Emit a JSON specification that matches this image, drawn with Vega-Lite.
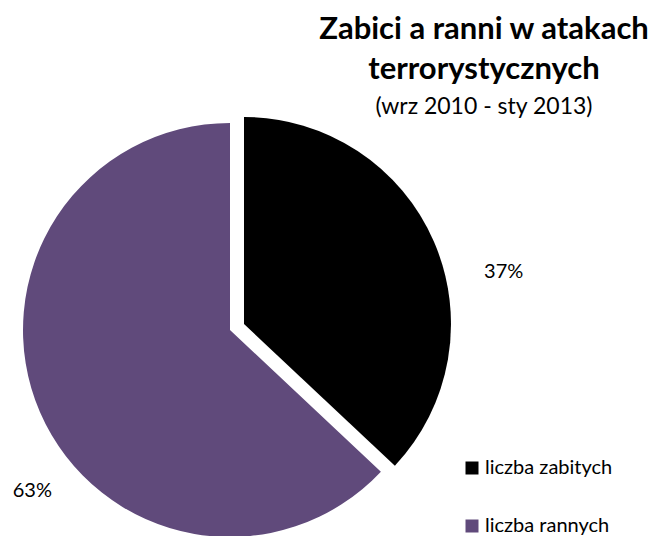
{
  "$schema": "https://vega.github.io/schema/vega-lite/v6.json",
  "autosize": "none",
  "width": 460,
  "height": 410,
  "padding": {"left": 0, "top": 125, "right": 197, "bottom": 1},
  "background": "white",
  "config": {"view": {"stroke": null}, "font": "Lato"},
  "title": {
    "text": ["Zabici a ranni w atakach", "terrorystycznych"],
    "subtitle": "(wrz 2010 - sty 2013)",
    "font": "Lato",
    "fontSize": 31,
    "fontWeight": "bold",
    "lineHeight": 40,
    "color": "#000000",
    "subtitleFont": "Lato",
    "subtitleFontSize": 23,
    "subtitleColor": "#000000",
    "subtitlePadding": 10,
    "anchor": "middle",
    "frame": "group",
    "dx": 254,
    "offset": -3
  },
  "data": {
    "values": [
      {"category": "liczba zabitych", "value": 37, "label": "37%"},
      {"category": "liczba rannych", "value": 63, "label": "63%"}
    ]
  },
  "transform": [
    {"stack": "value", "groupby": [], "as": ["v0", "v1"], "sort": [{"field": "category", "order": "descending"}]},
    {"calculate": "(datum.v0 + datum.v1) / 2", "as": "mid"}
  ],
  "layer": [
    {
      "transform": [{"filter": "datum.category === 'liczba zabitych'"}],
      "mark": {"type": "arc", "outerRadius": 207, "xOffset": 14, "yOffset": -6},
      "encoding": {
        "theta": {"field": "v0", "type": "quantitative", "scale": {"domain": [0, 100]}},
        "theta2": {"field": "v1"},
        "color": {
          "field": "category", "type": "nominal",
          "scale": {"domain": ["liczba zabitych", "liczba rannych"], "range": ["#000000", "#604a7b"]},
          "legend": {
            "title": null, "orient": "none", "legendX": 462, "legendY": 333,
            "symbolType": "square", "symbolSize": 169, "symbolStrokeWidth": 0,
            "labelFont": "Lato", "labelFontSize": 20, "labelColor": "#000000",
            "rowPadding": 38, "labelOffset": 3
          }
        }
      }
    },
    {
      "transform": [{"filter": "datum.category === 'liczba rannych'"}],
      "mark": {"type": "arc", "outerRadius": 207},
      "encoding": {
        "theta": {"field": "v0", "type": "quantitative", "scale": {"domain": [0, 100]}},
        "theta2": {"field": "v1"},
        "color": {"field": "category", "type": "nominal"}
      }
    },
    {
      "transform": [{"filter": "datum.category === 'liczba zabitych'"}],
      "mark": {"type": "text", "radius": 284, "xOffset": 14, "yOffset": -6, "dy": 61, "dx": -1, "fontSize": 20, "font": "Lato", "color": "#000000"},
      "encoding": {
        "theta": {"field": "mid", "type": "quantitative", "scale": {"domain": [0, 100]}},
        "text": {"field": "label"}
      }
    },
    {
      "transform": [{"filter": "datum.category === 'liczba rannych'"}],
      "mark": {"type": "text", "radius": 211, "dy": 77, "dx": -4, "fontSize": 20, "font": "Lato", "color": "#000000"},
      "encoding": {
        "theta": {"field": "mid", "type": "quantitative", "scale": {"domain": [0, 100]}},
        "text": {"field": "label"}
      }
    }
  ]
}
